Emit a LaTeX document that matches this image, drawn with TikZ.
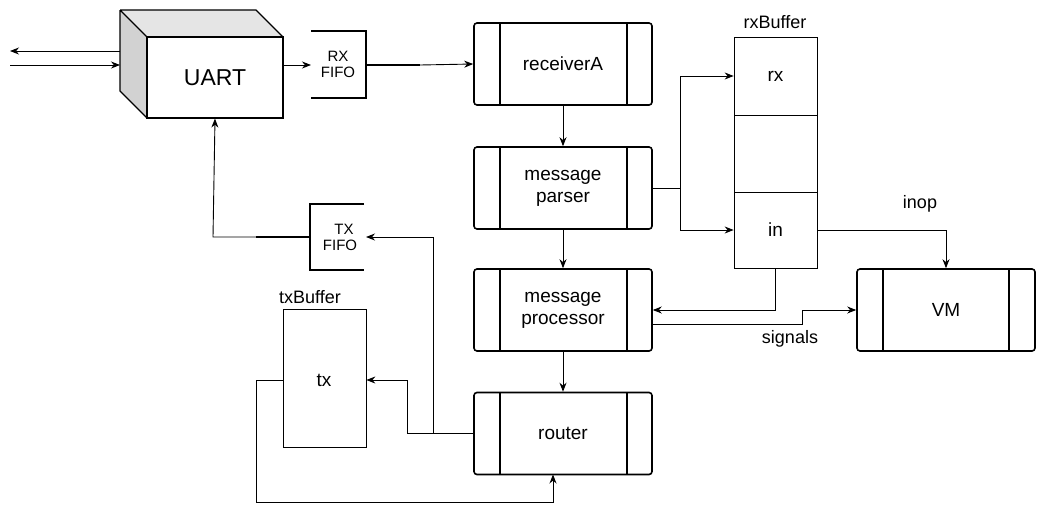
\documentclass[tikz,border=0pt]{standalone}
\usepackage{fontspec}
\setmainfont{Liberation Sans}
\usetikzlibrary{arrows.meta}
\begin{document}
\begin{tikzpicture}[x=1pt,y=-1pt,
  proc/.style={draw,line width=1.6pt,rounded corners=3pt,minimum width=178pt,minimum height=82pt,inner sep=0pt,font=\fontsize{19}{22}\selectfont,align=center},
  cell/.style={draw,line width=0.7pt,minimum width=83pt,inner sep=0pt,font=\fontsize{19}{22}\selectfont},
  conn/.style={line width=0.9pt,-{Stealth[length=9pt,width=7pt]}},
  plain/.style={line width=0.9pt},
  thick2/.style={line width=1.8pt},
  lbl/.style={font=\fontsize{18}{21}\selectfont},
  fifo/.style={font=\fontsize{15}{16}\selectfont,align=center,inner sep=0pt}]
\useasboundingbox (0,0) rectangle (1045,512);
% UART
\fill[gray!35] (120,10) -- (147,37) -- (147,118) -- (120,91) -- cycle;
\fill[gray!20] (120,10) -- (256,10) -- (283,37) -- (147,37) -- cycle;
\draw[line width=1.2pt] (120,10) -- (256,10) -- (283,37) (120,10) -- (147,37) (120,10) -- (120,91) -- (147,118);
\node[draw,line width=1.2pt,minimum width=136pt,minimum height=81pt,inner sep=0pt,font=\fontsize{23}{26}\selectfont] (uart) at (215,77.5) {UART};
\coordinate (uin) at (120,65); \coordinate (uout) at (120,51);
\coordinate (ext1) at (10,51); \coordinate (ext2) at (10,65);
\draw[conn] (uout) -- (ext1);
\draw[conn] (ext2) -- (uin);
% RX FIFO
\draw[thick2] (311,31) -- (366,31) -- (366,98) -- (311,98);
\node[fifo] (rxf) at (338,64) {RX\\FIFO};
\coordinate (rxfin) at (311,65); \coordinate (rxfout) at (366,65);
\draw[conn] (283,65) -- (rxfin);
% processes
\foreach \n/\y/\t in {recv/64/receiverA, pars/188/message\\parser, proc/310/message\\processor, rout/433.5/router}{
  \node[proc] (\n) at (563,\y) {\t};
  \draw[line width=1.6pt] (500,\y-41) -- (500,\y+41) (627,\y-41) -- (627,\y+41);
}
\node[proc] (vm) at (946,310) {VM};
\draw[line width=1.6pt] (883,269) -- (883,351) (1009,269) -- (1009,351);
\draw[thick2] (rxfout) -- (420,65);
\draw[conn] (420,65) -- (recv.west);
\draw[conn] (recv) -- (pars);
\draw[conn] (pars) -- (proc);
\draw[conn] (proc) -- (rout);
% rxBuffer
\node[cell,minimum height=78pt] (rx) at (775.5,76) {rx};
\node[cell,minimum height=77pt] (mid) at (775.5,153.5) {};
\node[cell,minimum height=76pt] (in) at (775.5,230) {in};
\node[lbl] (rxbl) at (775,22) {rxBuffer};
\draw[conn] (pars.east) -- (680,188) |- (rx.west);
\draw[conn] (680,188) |- (in.west);
\draw[conn] (in.east) -| (vm.north);
\node[lbl] (inop) at (920,204) {inop};
\draw[conn] (in.south) |- (proc.east);
\draw[conn] (652,324) -- (802,324) -- (802,310) -- (vm.west);
\node[lbl] (sig) at (790,339) {signals};
% TX FIFO
\draw[thick2] (364,204) -- (310,204) -- (310,270) -- (364,270);
\node[fifo] (txf) at (340,237) {\hspace*{8pt}TX\\FIFO};
\coordinate (txfin) at (366,237); \coordinate (txfout) at (310,237);
\draw[thick2] (txfout) -- (256,237);
\draw[conn] (256,237) -- (213,237) -- (uart.south);
% txBuffer
\node[draw,line width=0.7pt,minimum width=83pt,minimum height=138pt,inner sep=0pt] (txb) at (324.5,378) {};
\node[font=\fontsize{19}{22}\selectfont] (tx) at (324,380) {tx};
\node[lbl] (txbl) at (310,297) {txBuffer};
\draw[conn] (rout.west) -- (407,433.5) -- (407,380) -- (txb.east |- 0,380);
\draw[conn] (433,433.5) -- (433,237) -- (txfin);
\draw[conn] (283,380) -- (256,380) -- (256,502) -- (553,502) -- (553,474.5);
\end{tikzpicture}
\end{document}
